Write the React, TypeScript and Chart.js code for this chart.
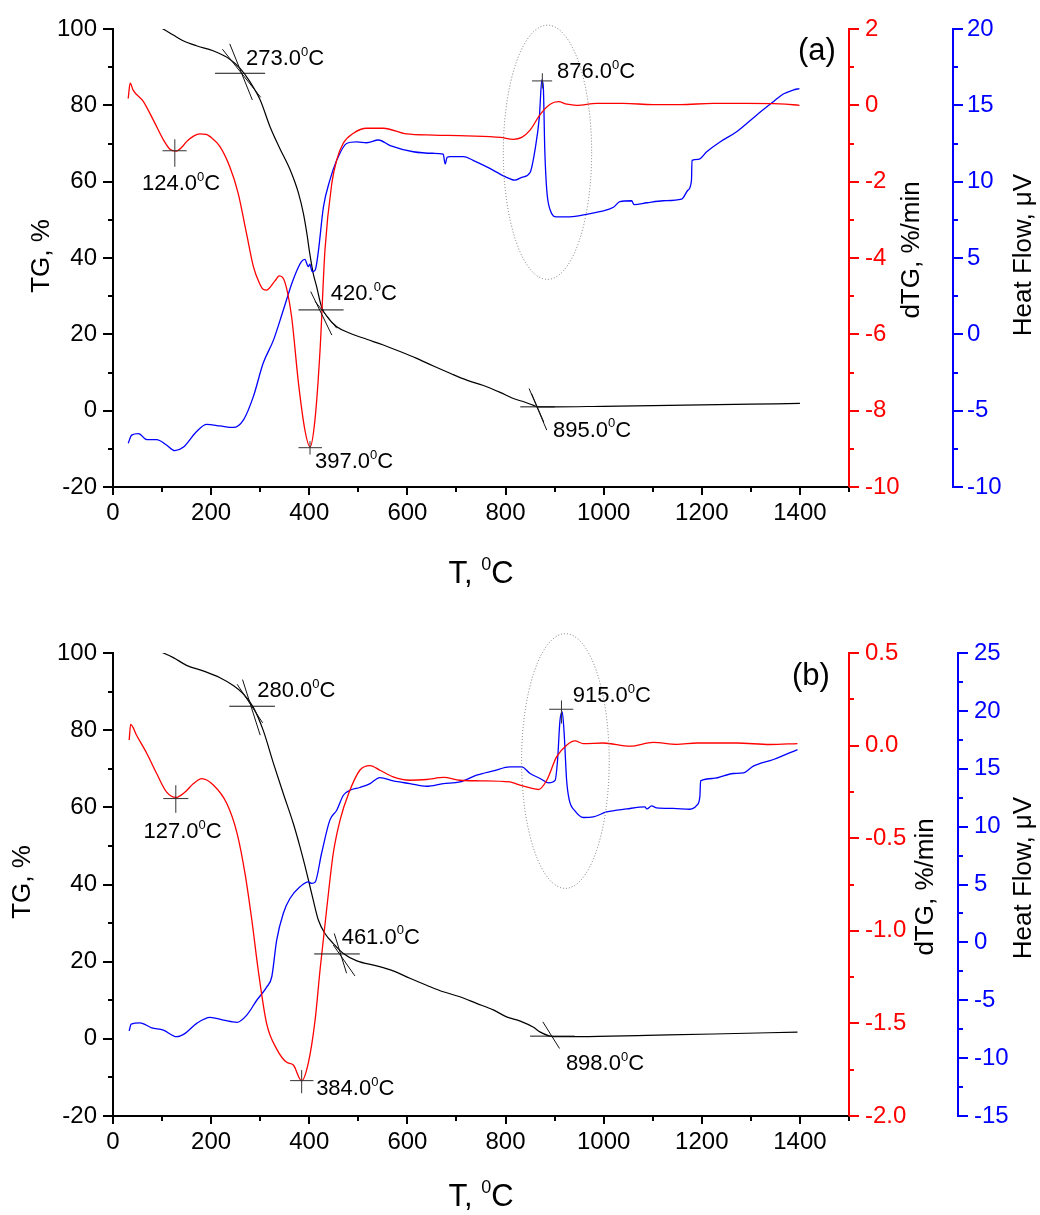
import React, { useEffect, useRef } from 'react';
import { Chart, registerables } from 'chart.js';

Chart.register(...registerables);

const FONT = "'Liberation Sans', Arial, Helvetica, sans-serif";

// ---------------- Panel (a) series ----------------
const tgA_T = [35, 90, 102, 123, 143, 170, 204, 238, 259, 279, 300, 320, 340, 361, 378, 388, 395, 401, 408, 415, 425, 439, 456, 483, 517, 551, 585, 619, 653, 687, 721, 755, 789, 816, 840, 857, 866, 900, 1000, 1100, 1200, 1300, 1400];
const tgA = [100.6, 100.6, 100, 98.4, 96.9, 95.6, 94.3, 92.1, 89.7, 86.2, 81.4, 74.4, 68.7, 63.1, 57, 51.7, 46.5, 41.2, 36, 32.5, 27.2, 24.2, 22.0, 20.3, 18.7, 17.2, 15.5, 13.7, 11.7, 9.8, 8.0, 6.6, 4.8, 3.2, 2.2, 1.4, 1.0, 1.0, 1.15, 1.3, 1.5, 1.7, 1.9];

const dtgA_T = [31, 35, 41, 62, 82, 103, 116, 128, 140, 150, 165, 177, 190, 198, 218, 238, 255, 272, 286, 298, 306, 313, 320, 330, 339, 350, 364, 378, 391, 401.5, 411.6, 422, 432, 446, 456, 469, 490, 517, 551, 598, 653, 721, 790, 816, 833, 850, 870, 891, 908, 925, 945, 986, 1040, 1101, 1156, 1223, 1291, 1359, 1399];
const dtgA = [0.18, 0.58, 0.40, 0.10, -0.38, -0.91, -1.15, -1.2, -1.1, -0.95, -0.8, -0.75, -0.76, -0.82, -1.08, -1.61, -2.3, -3.35, -4.22, -4.65, -4.82, -4.84, -4.77, -4.6, -4.47, -4.62, -5.54, -7.28, -8.5, -8.95, -8.24, -6.41, -3.79, -2.04, -1.43, -1.0, -0.73, -0.60, -0.60, -0.75, -0.78, -0.80, -0.84, -0.89, -0.84, -0.65, -0.25, 0.03, 0.095, 0.03, 0.0, 0.05, 0.05, 0.02, 0.02, 0.05, 0.05, 0.04, 0.0];

const hfA_T = [31, 38, 52, 69, 89, 109, 126, 143, 170, 191, 218, 245, 266, 286, 306, 327, 347, 367, 384, 391, 398, 401, 406, 412, 418, 429, 442, 456, 476, 497, 517, 541, 565, 612, 653, 673, 677, 681, 687, 714, 734, 768, 799, 819, 833, 850, 860, 869, 874, 877, 880, 884, 891, 904, 931, 965, 992, 1020, 1033, 1057, 1062, 1088, 1121, 1159, 1172, 1179, 1180, 1193, 1210, 1237, 1271, 1312, 1346, 1366, 1386, 1399];
const hfA = [-7.14, -6.6, -6.5, -6.9, -6.9, -7.25, -7.62, -7.4, -6.38, -5.9, -6.0, -6.1, -5.6, -4.08, -1.9, -0.38, 1.58, 3.56, 4.76, 4.91, 4.43, 4.6, 4.1, 4.2, 5.3, 8.36, 10.1, 11.4, 12.5, 12.6, 12.55, 12.73, 12.36, 11.96, 11.86, 11.8, 11.16, 11.6, 11.64, 11.64, 11.4, 10.87, 10.33, 10.1, 10.28, 10.6, 12.07, 14.26, 16.66, 16.2, 12.07, 9.45, 8.14, 7.7, 7.7, 7.86, 8.04, 8.32, 8.7, 8.75, 8.5, 8.62, 8.75, 8.86, 9.45, 10.1, 11.4, 11.46, 11.96, 12.6, 13.27, 14.37, 15.24, 15.74, 16.0, 16.1];

// ---------------- Panel (b) series ----------------
const tgB_T = [35, 90, 102.5, 123, 150, 185, 218, 245, 265, 286, 306, 327, 347, 367.5, 381, 395, 408, 418.5, 432, 449, 469.5, 497, 537.5, 571, 605, 639, 673, 707, 741, 775, 802, 830, 857, 870, 898, 952, 1088, 1224, 1395];
const tgB = [100.6, 100.6, 100, 98.8, 96.8, 95.3, 93.6, 91.6, 89.5, 85.9, 80, 71.4, 63.6, 55.8, 49.8, 42.9, 36, 30.8, 27.3, 24.7, 22.1, 20.2, 18.9, 17.6, 15.7, 13.9, 12.2, 10.9, 9.2, 7.5, 5.7, 4.6, 3.0, 1.8, 0.55, 0.55, 0.9, 1.25, 1.76];

const dtgB_T = [33, 36, 48, 69, 89, 109, 128, 147, 164, 181, 205, 232, 253, 269, 283, 296, 313, 334, 354, 367.5, 384.5, 398, 412, 422, 436, 449, 463, 480, 503, 524, 544, 571, 605, 639, 674, 707, 748, 809, 823, 850, 867, 884, 904, 924.5, 941.5, 958.5, 999, 1054, 1101, 1149, 1190, 1271, 1339, 1395];
const dtgB = [0.03, 0.115, 0.056, -0.043, -0.151, -0.25, -0.28, -0.25, -0.205, -0.178, -0.214, -0.313, -0.475, -0.69, -0.943, -1.213, -1.5, -1.64, -1.71, -1.725, -1.81, -1.715, -1.48, -1.21, -0.87, -0.58, -0.40, -0.26, -0.133, -0.108, -0.133, -0.169, -0.187, -0.183, -0.172, -0.187, -0.19, -0.196, -0.208, -0.228, -0.237, -0.187, -0.061, 0.002, 0.025, 0.011, 0.014, -0.003, 0.017, 0.007, 0.014, 0.014, 0.006, 0.011];

const hfB_T = [33, 37, 55, 79, 102.5, 130, 147, 170.5, 198, 225, 252.5, 272.6, 293, 313.5, 323.6, 333.6, 347, 360.6, 381, 398, 405, 412, 425, 442, 456, 469.5, 483, 503, 524, 544, 571, 605, 639, 673, 707, 741, 775, 809, 833, 850, 870.5, 887.6, 901, 906, 911, 915.5, 919.5, 924.5, 930, 941.5, 958.5, 979, 1006, 1047, 1084, 1088, 1097.6, 1108, 1142, 1176, 1190, 1196, 1197.6, 1223, 1264, 1284.5, 1305, 1346, 1395];
const hfB = [-7.64, -7.06, -6.95, -7.38, -7.58, -8.15, -7.86, -7.0, -6.48, -6.71, -6.91, -6.28, -5.0, -3.84, -2.97, 0.2, 2.5, 3.79, 4.8, 5.23, 5.09, 5.2, 7.68, 10.56, 11.42, 12.71, 13.14, 13.38, 13.72, 14.24, 13.95, 13.72, 13.49, 13.72, 13.86, 14.44, 14.81, 15.16, 15.16, 14.59, 14.16, 13.78, 14.0, 15.74, 19.19, 19.91, 18.04, 14.0, 12.28, 11.36, 10.79, 10.84, 11.27, 11.53, 11.7, 11.53, 11.79, 11.62, 11.57, 11.5, 11.85, 12.57, 13.95, 14.16, 14.59, 14.64, 15.22, 15.8, 16.66];

// ---------------- Axis ranges and ticks ----------------
const xRange = [0, 1500];
const xStep = 100;
const xLabelStep = 200;
const tgRange = [-20, 100];
const tgStep = 10;
const tgLabelStep = 20;
const dtgRangeA = [-10, 2];
const dtgStepA = 1;
const dtgLabelStepA = 2;
const hfRangeA = [-10, 20];
const dtgRangeB = [-2, 0.5];
const dtgStepB = 0.25;
const dtgLabelStepB = 0.5;
const hfRangeB = [-15, 25];
const hfStep = 2.5;
const hfLabelStep = 5;

// ---------------- Annotations (data coordinates) ----------------
type Pt = [number, number];
type Onset = { segs: Pt[][]; text: string[]; at: Pt };
type Cross = { c: Pt; h: Pt; v: Pt; text: string[]; at: Pt };

const onsetsA: Onset[] = [
  { segs: [[[208, 88.4], [310, 88.4]], [[238, 96.1], [284, 81.4]], [[223, 94.7], [301, 82.1]]], text: ['273.0', '0', 'C'], at: [271, 90.6] },
  { segs: [[[378, 26.4], [470, 26.4]], [[403, 31.2], [446, 19.8]], [[412, 28.6], [456, 21.6]]], text: ['420.', '0', 'C'], at: [444, 29.0] },
  { segs: [[[830, 1.0], [900, 1.0]], [[848, 5.8], [884, -5.1]], [[853, 4.5], [878, -3.0]]], text: ['895.0', '0', 'C'], at: [896.6, -6.8] },
];
const dtgCrossA: Cross[] = [
  { c: [126, -1.19], h: [101, 150], v: [-0.89, -1.61], text: ['124.0', '0', 'C'], at: [59, -2.22] },
  { c: [401.5, -8.97], h: [378, 426], v: [-8.8, -9.15], text: ['397.0', '0', 'C'], at: [411.7, -9.5] },
];
const hfCrossA: Cross[] = [
  { c: [875, 16.6], h: [854, 895], v: [17.1, 16.1], text: ['876.0', '0', 'C'], at: [904.8, 16.8] },
];
const ellipseA = [885.5, 67.7, 90, 33.3];

const onsetsB: Onset[] = [
  { segs: [[[237, 86.2], [330, 86.2]], [[253, 91.9], [305, 81.9]], [[264, 93.1], [300, 78.7]]], text: ['280.0', '0', 'C'], at: [294, 88.5] },
  { segs: [[[410, 22.0], [503, 22.0]], [[451, 27.3], [476, 17.0]], [[449, 24.3], [493, 16.3]]], text: ['461.0', '0', 'C'], at: [466, 24.7] },
  { segs: [[[850, 0.7], [941, 0.7]], [[876, 4.4], [910, -2.5]]], text: ['898.0', '0', 'C'], at: [923, -8.1] },
];
const dtgCrossB: Cross[] = [
  { c: [128, -0.286], h: [102.5, 153.5], v: [-0.214, -0.363], text: ['127.0', '0', 'C'], at: [62, -0.5] },
  { c: [384.5, -1.809], h: [361, 408.5], v: [-1.752, -1.877], text: ['384.0', '0', 'C'], at: [414, -1.887] },
];
const hfCrossB: Cross[] = [
  { c: [914, 20.14], h: [889, 938], v: [20.9, 18.9], text: ['915.0', '0', 'C'], at: [937, 20.77] },
];
const ellipseB = [922, 72.0, 89.3, 33.0];

// ---------------- Panel configuration ----------------
interface PanelCfg {
  height: number;
  padTop: number;
  xAxisH: number;
  redW: number;
  blueW: number;
  bluePad: number;
  tg: [number[], number[]];
  dtg: [number[], number[]];
  hf: [number[], number[]];
  dtgRange: number[];
  dtgStep: number;
  dtgLabelStep: number;
  dtgDigits: number;
  hfRange: number[];
  onsets: Onset[];
  dtgCross: Cross[];
  hfCross: Cross[];
  ellipse: number[];
  tag: string;
  tagAt: Pt;
  titles: { tgX: number; tgY: number; dtgX: number; dtgY: number; hfX: number; hfY: number; xY: number };
}

const panelA: PanelCfg = {
  height: 607, padTop: 29, xAxisH: 120, redW: 104, blueW: 87, bluePad: 4,
  tg: [tgA_T, tgA], dtg: [dtgA_T, dtgA], hf: [hfA_T, hfA],
  dtgRange: dtgRangeA, dtgStep: dtgStepA, dtgLabelStep: dtgLabelStepA, dtgDigits: 0,
  hfRange: hfRangeA,
  onsets: onsetsA, dtgCross: dtgCrossA, hfCross: hfCrossA, ellipse: ellipseA,
  tag: '(a)', tagAt: [1434.7, 94.0],
  titles: { tgX: 42, tgY: 256, dtgX: 912, dtgY: 250, hfX: 1024, hfY: 255, xY: 583 },
};

const panelB: PanelCfg = {
  height: 608, padTop: 46, xAxisH: 99, redW: 109, blueW: 82, bluePad: 6,
  tg: [tgB_T, tgB], dtg: [dtgB_T, dtgB], hf: [hfB_T, hfB],
  dtgRange: dtgRangeB, dtgStep: dtgStepB, dtgLabelStep: dtgLabelStepB, dtgDigits: 1,
  hfRange: hfRangeB,
  onsets: onsetsB, dtgCross: dtgCrossB, hfCross: hfCrossB, ellipse: ellipseB,
  tag: '(b)', tagAt: [1422.5, 94.0],
  titles: { tgX: 23, tgY: 275, dtgX: 926, dtgY: 280, hfX: 1024, hfY: 271, xY: 599 },
};

const zip = (t: number[], v: number[]) => t.map((x, i) => ({ x, y: v[i] }));
const isMult = (v: number, step: number) => Math.abs(Math.round(v / step) * step - v) < 1e-6;
const fmt = (v: number, d: number) => (Math.abs(v) < 1e-9 ? 0 : v).toFixed(d);

function supText(ctx: CanvasRenderingContext2D, x: number, y: number, parts: string[], size: number, supScale = 0.6) {
  ctx.textAlign = 'left';
  ctx.textBaseline = 'alphabetic';
  ctx.font = `${size}px ${FONT}`;
  ctx.fillText(parts[0], x, y);
  let w = ctx.measureText(parts[0]).width;
  ctx.font = `${Math.round(size * supScale)}px ${FONT}`;
  ctx.fillText(parts[1], x + w, y - size * 0.42);
  w += ctx.measureText(parts[1]).width;
  ctx.font = `${size}px ${FONT}`;
  ctx.fillText(parts[2], x + w, y);
}

function makeDecor(p: PanelCfg) {
  return {
    id: 'decor',
    afterDraw(chart: any) {
      const ctx: CanvasRenderingContext2D = chart.ctx;
      const sx = chart.scales.x;
      const sy = chart.scales.y;
      const s1 = chart.scales.y1;
      const s2 = chart.scales.y2;
      ctx.save();

      // tick marks (major/minor)
      const marks = (s: any, color: string, side: 'bottom' | 'left' | 'right', major: number, minor: number) => {
        ctx.strokeStyle = color;
        ctx.lineWidth = 2;
        ctx.beginPath();
        for (const t of s.ticks) {
          const len = t.label !== '' ? major : minor;
          const pix = Math.round(s.getPixelForValue(t.value));
          if (side === 'bottom') {
            ctx.moveTo(pix, s.top);
            ctx.lineTo(pix, s.top + len);
          } else if (side === 'left') {
            ctx.moveTo(s.right, pix);
            ctx.lineTo(s.right - len, pix);
          } else {
            ctx.moveTo(s.left, pix);
            ctx.lineTo(s.left + len, pix);
          }
        }
        ctx.stroke();
      };
      marks(sx, '#000', 'bottom', 8, 5);
      marks(sy, '#000', 'left', 10, 5);
      marks(s1, '#ff0000', 'right', 10, 5);
      marks(s2, '#0000ff', 'right', 10, 5);

      const X = (v: number) => sx.getPixelForValue(v);
      const line = (x1: number, y1: number, x2: number, y2: number) => {
        ctx.beginPath();
        ctx.moveTo(x1, y1);
        ctx.lineTo(x2, y2);
        ctx.stroke();
      };

      // ellipse (dotted)
      const [ecx, ecy, erx, ery] = p.ellipse;
      const cx = X(ecx);
      const cy = sy.getPixelForValue(ecy);
      ctx.strokeStyle = '#777';
      ctx.lineWidth = 1;
      ctx.setLineDash([1, 2]);
      ctx.beginPath();
      ctx.ellipse(cx, cy, Math.abs(X(ecx + erx) - cx), Math.abs(sy.getPixelForValue(ecy + ery) - cy), 0, 0, Math.PI * 2);
      ctx.stroke();
      ctx.setLineDash([]);

      // onset tangents on TG
      ctx.fillStyle = '#000';
      for (const o of p.onsets) {
        ctx.strokeStyle = '#111';
        ctx.lineWidth = 1;
        for (const sg of o.segs) line(X(sg[0][0]), sy.getPixelForValue(sg[0][1]), X(sg[1][0]), sy.getPixelForValue(sg[1][1]));
        supText(ctx, X(o.at[0]), sy.getPixelForValue(o.at[1]), o.text, 22);
      }
      // peak crosshairs
      const crosses = (s: any, list: Cross[]) => {
        for (const c of list) {
          ctx.strokeStyle = '#333';
          ctx.lineWidth = 1;
          const py = s.getPixelForValue(c.c[1]);
          const px = X(c.c[0]);
          line(X(c.h[0]), py, X(c.h[1]), py);
          line(px, s.getPixelForValue(c.v[0]), px, s.getPixelForValue(c.v[1]));
          ctx.fillStyle = '#000';
          supText(ctx, X(c.at[0]), s.getPixelForValue(c.at[1]), c.text, 22);
        }
      };
      crosses(s1, p.dtgCross);
      crosses(s2, p.hfCross);

      // panel tag
      ctx.fillStyle = '#000';
      ctx.font = `31px ${FONT}`;
      ctx.textAlign = 'center';
      ctx.textBaseline = 'middle';
      ctx.fillText(p.tag, X(p.tagAt[0]), sy.getPixelForValue(p.tagAt[1]));

      // axis titles
      const vtitle = (text: string, x: number, y: number) => {
        ctx.save();
        ctx.translate(x, y);
        ctx.rotate(-Math.PI / 2);
        ctx.font = `26px ${FONT}`;
        ctx.fillStyle = '#000';
        ctx.textAlign = 'center';
        ctx.textBaseline = 'middle';
        ctx.fillText(text, 0, 0);
        ctx.restore();
      };
      vtitle('TG, %', p.titles.tgX, p.titles.tgY);
      vtitle('dTG, %/min', p.titles.dtgX, p.titles.dtgY);
      vtitle('Heat Flow, \u03bcV', p.titles.hfX, p.titles.hfY);

      // x title with superscript
      ctx.font = `31px ${FONT}`;
      const parts = ['T, ', '0', 'C'];
      const w0 = ctx.measureText(parts[0]).width + ctx.measureText(parts[2]).width;
      ctx.font = `${Math.round(31 * 0.58)}px ${FONT}`;
      const w1 = ctx.measureText(parts[1]).width;
      const midX = (chart.chartArea.left + chart.chartArea.right) / 2;
      ctx.fillStyle = '#000';
      supText(ctx, midX - (w0 + w1) / 2, p.titles.xY, parts, 31, 0.58);

      ctx.restore();
    },
  };
}

function PanelChart({ p }: { p: PanelCfg }) {
  const ref = useRef<HTMLCanvasElement>(null);
  useEffect(() => {
    if (!ref.current) return;
    const tickFont = { family: FONT, size: 24 };
    const common = (color: string) => ({
      grid: { display: true, drawOnChartArea: false, drawTicks: true, tickLength: 10, tickColor: 'rgba(0,0,0,0)' },
      border: { display: true, color, width: 2 },
    });
    const chart = new Chart(ref.current, {
      type: 'line',
      data: {
        datasets: [
          { label: 'dTG', data: zip(p.dtg[0], p.dtg[1]), yAxisID: 'y1', borderColor: '#ff0000', borderWidth: 1.3, pointRadius: 0, cubicInterpolationMode: 'monotone', fill: false },
          { label: 'Heat Flow', data: zip(p.hf[0], p.hf[1]), yAxisID: 'y2', borderColor: '#0000ff', borderWidth: 1.3, pointRadius: 0, cubicInterpolationMode: 'monotone', fill: false },
          { label: 'TG', data: zip(p.tg[0], p.tg[1]), yAxisID: 'y', borderColor: '#000000', borderWidth: 1.2, pointRadius: 0, cubicInterpolationMode: 'monotone', fill: false },
        ],
      },
      options: {
        responsive: false,
        animation: false,
        events: [],
        layout: { padding: { top: p.padTop, left: 0, right: 0, bottom: 0 } },
        plugins: { legend: { display: false }, tooltip: { enabled: false }, title: { display: false } },
        scales: {
          x: {
            type: 'linear', position: 'bottom', min: xRange[0], max: xRange[1],
            ticks: { stepSize: xStep, autoSkip: false, maxRotation: 0, color: '#000', font: tickFont, padding: 4,
              callback: (v: any) => (isMult(Number(v), xLabelStep) ? String(v) : '') },
            grid: { display: true, drawOnChartArea: false, drawTicks: true, tickLength: 8, tickColor: 'rgba(0,0,0,0)' },
            border: { display: true, color: '#000', width: 2 },
            afterFit: (s: any) => { s.height = p.xAxisH; },
          },
          y: {
            type: 'linear', position: 'left', min: tgRange[0], max: tgRange[1],
            ticks: { stepSize: tgStep, autoSkip: false, color: '#000', font: tickFont, padding: 6,
              callback: (v: any) => (isMult(Number(v), tgLabelStep) ? String(v) : '') },
            ...common('#000'),
            afterFit: (s: any) => { s.width = 113; },
          },
          y1: {
            type: 'linear', position: 'right', weight: 1, min: p.dtgRange[0], max: p.dtgRange[1],
            ticks: { stepSize: p.dtgStep, autoSkip: false, color: '#ff0000', font: tickFont, padding: 6,
              callback: (v: any) => (isMult(Number(v), p.dtgLabelStep) ? fmt(Number(v), p.dtgDigits) : '') },
            ...common('#ff0000'),
            afterFit: (s: any) => { s.width = p.redW; },
          },
          y2: {
            type: 'linear', position: 'right', weight: 2, min: p.hfRange[0], max: p.hfRange[1],
            ticks: { stepSize: hfStep, autoSkip: false, color: '#0000ff', font: tickFont, padding: p.bluePad,
              callback: (v: any) => (isMult(Number(v), hfLabelStep) ? fmt(Number(v), 0) : '') },
            ...common('#0000ff'),
            afterFit: (s: any) => { s.width = p.blueW; },
          },
        },
      } as any,
      plugins: [makeDecor(p)],
    });
    return () => chart.destroy();
  }, [p]);
  return <canvas ref={ref} width={1040} height={p.height} style={{ display: 'block', width: 1040, height: p.height }} />;
}

export default function App() {
  return (
    <div style={{ position: 'absolute', left: 0, top: 0, width: 1040, height: 1215, background: '#fff', overflow: 'hidden' }}>
      <PanelChart p={panelA} />
      <PanelChart p={panelB} />
    </div>
  );
}
